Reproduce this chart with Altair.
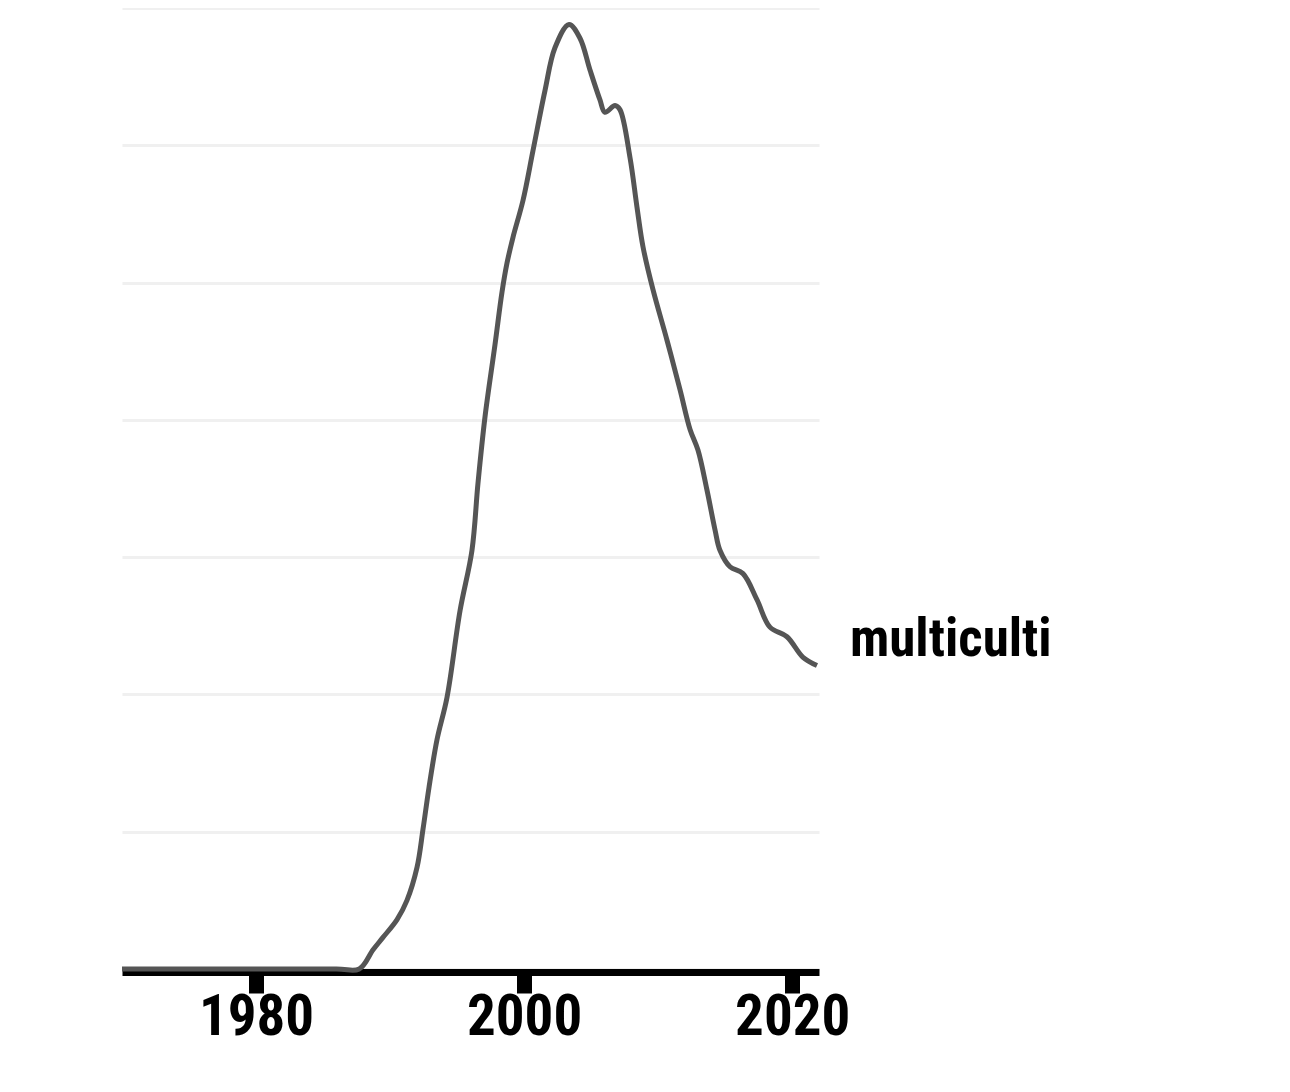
import altair as alt
import pandas as pd

years = [1970, 1986, 1987.7, 1988.73, 1989.47, 1990.52, 1991.26, 1992.01, 1992.46,
         1992.9, 1993.5, 1994.25, 1995.22, 1996.11, 1996.56, 1997.08, 1997.83,
         1998.35, 1998.72, 1999.17, 1999.92, 2000.66, 2001.56, 2002.3, 2003.35,
         2004.17, 2004.91, 2005.66, 2006.03, 2006.78, 2007.15, 2007.9, 2008.42,
         2008.87, 2009.61, 2010.66, 2011.63, 2012.38, 2012.97, 2013.64, 2014.24,
         2014.61, 2015.36, 2016.33, 2017.37, 2018.34, 2019.61, 2020.81, 2021.85]
values = [0, 0, 0, 0.14, 0.23, 0.36, 0.50, 0.74, 1.02,
          1.32, 1.67, 1.98, 2.61, 3.05, 3.54, 4.02, 4.55,
          4.93, 5.14, 5.33, 5.60, 5.96, 6.40, 6.71, 6.88,
          6.78, 6.55, 6.33, 6.24, 6.29, 6.26, 5.91, 5.55,
          5.26, 4.95, 4.58, 4.22, 3.93, 3.78, 3.49, 3.20,
          3.05, 2.93, 2.88, 2.69, 2.49, 2.42, 2.27, 2.21]
series_label = "multiculti"
x_ticks = [1980, 2000, 2020]

FONT = "Roboto Condensed"

df = pd.DataFrame({"year": years, "value": values})
lab = pd.DataFrame({"year": [years[-1]], "value": [values[-1]], "label": [series_label]})

x_scale = alt.Scale(domain=[1970, 2022], nice=False, zero=False)
y_scale = alt.Scale(domain=[0, 7], nice=False)

line = alt.Chart(df).mark_line(
    color="#555555", strokeWidth=5, interpolate="catmull-rom"
).encode(
    x=alt.X("year:Q", scale=x_scale,
            axis=alt.Axis(values=x_ticks, format="d", title=None, grid=False,
                          domainColor="black", domainWidth=7, domainCap="butt",
                          tickColor="black", tickWidth=15, tickSize=21,
                          offset=3, labelFont=FONT, labelFontSize=57,
                          labelFontWeight="bold", labelColor="black",
                          labelPadding=-4, labelFlush=False)),
    y=alt.Y("value:Q", scale=y_scale,
            axis=alt.Axis(values=[0, 1, 2, 3, 4, 5, 6, 7], labels=False,
                          ticks=False, domain=False, title=None,
                          grid=True, gridColor="#f0f0f0", gridWidth=3)),
)

text = alt.Chart(lab).mark_text(
    align="left", baseline="alphabetic", dx=33, dy=-10,
    font=FONT, fontSize=53, fontWeight="bold", color="black"
).encode(
    x=alt.X("year:Q", scale=x_scale),
    y=alt.Y("value:Q", scale=y_scale),
    text="label:N",
)

chart = alt.layer(line, text).properties(
    width=697, height=961,
    autosize=alt.AutoSizeParams(type="none"),
    padding={"left": 114, "top": 0, "right": 300, "bottom": 110},
).configure_view(stroke=None)

chart.save("out.html", embed_options={"renderer": "svg", "actions": False})
